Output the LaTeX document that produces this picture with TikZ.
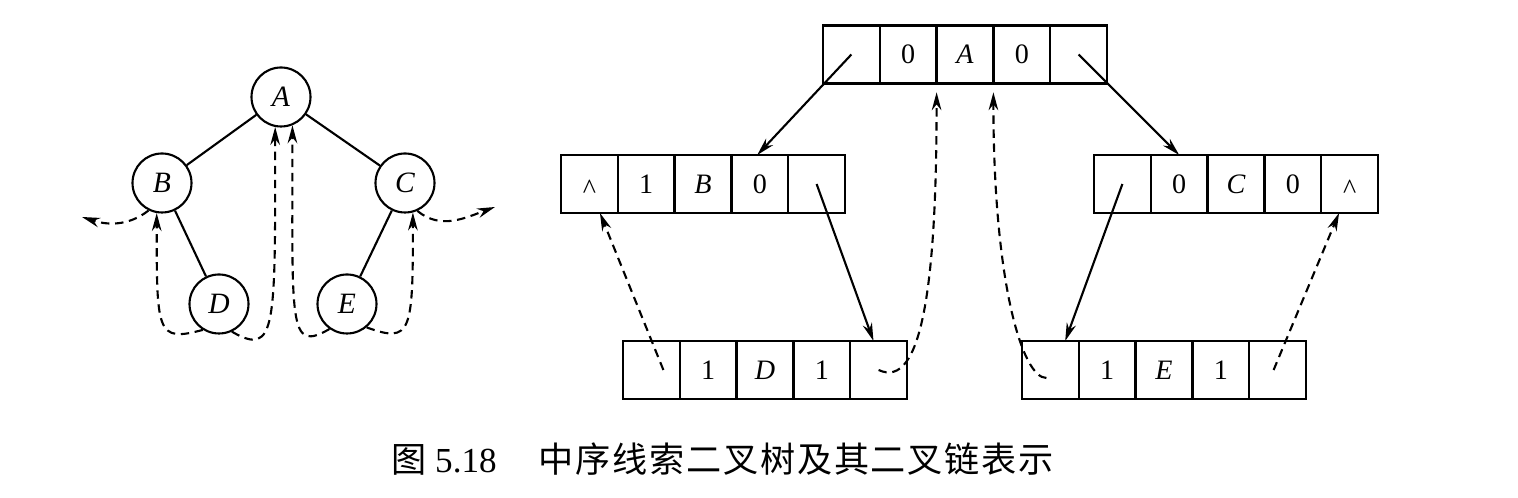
\documentclass[tikz,border=0pt]{standalone}
\usepackage{fontspec}
\setmainfont{Liberation Serif}
\newfontfamily\cjk[LetterSpace=5]{Noto Sans CJK SC}
\usetikzlibrary{arrows.meta}

\tikzset{
    cell/.style={draw, line width=1.6pt, minimum width=1.42cm, minimum height=1.45cm, inner sep=0pt, outer sep=0pt, font=\fontsize{20}{20}\selectfont},
    tnode/.style={circle, draw, line width=1.5pt, minimum size=1.475cm, inner sep=0pt, font=\fontsize{21}{21}\selectfont},
    pointer/.style={line width=1.5pt, -{Stealth[length=0.45cm, width=0.24cm]}},
    thread/.style={pointer, dash pattern=on 6pt off 4pt},
}

\begin{document}
\begin{tikzpicture}
        \useasboundingbox (0, 0) rectangle (37.95, 12.45);
        % Tree, threads and records:
        \node[tnode](tA) at (7.025, 10.025){\textit{A}};
        \node[tnode](tB) at (4.05, 7.875){\textit{B}};
        \node[tnode](tC) at (10.125, 7.875){\textit{C}};
        \node[tnode](tD) at (5.475, 4.85){\textit{D}};
        \node[tnode](tE) at (8.675, 4.85){\textit{E}};
        \coordinate (Bl) at (2.05, 7.025);
        \coordinate (Cr) at (12.375, 7.275);
        \draw[line width=1.5pt] (tA) -- (tB);
        \draw[line width=1.5pt] (tA) -- (tC);
        \draw[line width=1.5pt] (tB) -- (tD);
        \draw[line width=1.5pt] (tC) -- (tE);
        \draw[thread] (tB.-116) to[out=218, in=-18] (Bl);
        \draw[thread] (tC.-66) to[out=-40, in=200] (Cr);
        \draw[thread] (tD.238) .. controls +(195:1.2) and +(-90:3) .. (tB.-100);
        \draw[thread] (tD.-65) .. controls +(-30:1.3) and +(-90:5) .. (tA.-101);
        \draw[thread] (tE.235) .. controls +(210:1.2) and +(-90:5) .. (tA.-68);
        \draw[thread] (tE.-50) .. controls +(-20:1.2) and +(-90:3) .. (tC.-75);
        \node[cell](A1) at (21.285, 11.088){};
        \node[cell](A2) at (22.705, 11.088){0};
        \node[cell](A3) at (24.125, 11.088){\textit{A}};
        \node[cell](A4) at (25.545, 11.088){0};
        \node[cell](A5) at (26.965, 11.088){};
        \node[cell](B1) at (14.735, 7.85){\raisebox{-0.5em}[0pt][0pt]{\textasciicircum}};
        \node[cell](B2) at (16.155, 7.85){1};
        \node[cell](B3) at (17.575, 7.85){\textit{B}};
        \node[cell](B4) at (18.995, 7.85){0};
        \node[cell](B5) at (20.415, 7.85){};
        \node[cell](C1) at (28.06, 7.85){};
        \node[cell](C2) at (29.48, 7.85){0};
        \node[cell](C3) at (30.9, 7.85){\textit{C}};
        \node[cell](C4) at (32.32, 7.85){0};
        \node[cell](C5) at (33.74, 7.85){\raisebox{-0.5em}[0pt][0pt]{\textasciicircum}};
        \node[cell](D1) at (16.285, 3.2){};
        \node[cell](D2) at (17.705, 3.2){1};
        \node[cell](D3) at (19.125, 3.2){\textit{D}};
        \node[cell](D4) at (20.545, 3.2){1};
        \node[cell](D5) at (21.965, 3.2){};
        \node[cell](E1) at (26.26, 3.2){};
        \node[cell](E2) at (27.68, 3.2){1};
        \node[cell](E3) at (29.1, 3.2){\textit{E}};
        \node[cell](E4) at (30.52, 3.2){1};
        \node[cell](E5) at (31.94, 3.2){};
        \draw[pointer] (A1.center) -- (B4.95);
        \draw[pointer] (A5.center) -- (C2.north);
        \draw[pointer] (B5.center) -- (D5.100);
        \draw[pointer] (C1.center) -- (E1.63);
        \draw[thread] ([xshift=0.3cm]D1.center) -- (B1.-70);
        \draw[thread, shorten >=0.22cm] (D5.center) .. controls +(-25:1.2) and +(-90:5) .. (A2.south east);
        \draw[thread, shorten >=0.22cm] ([shift={(-0.1,-0.2)}]E1.center) .. controls +(180:0.6) and +(-90:5) .. (A4.south west);
        \draw[thread] ([xshift=-0.1cm]E5.center) -- (C5.-110);
        \node[anchor=base west, inner sep=0pt, font=\fontsize{25}{25}\selectfont](cap) at (9.775, 0.625){{\cjk 图} 5.18\hspace{30pt}{\cjk 中序线索二叉树及其二叉链表示}};
    \end{tikzpicture}
\end{document}
